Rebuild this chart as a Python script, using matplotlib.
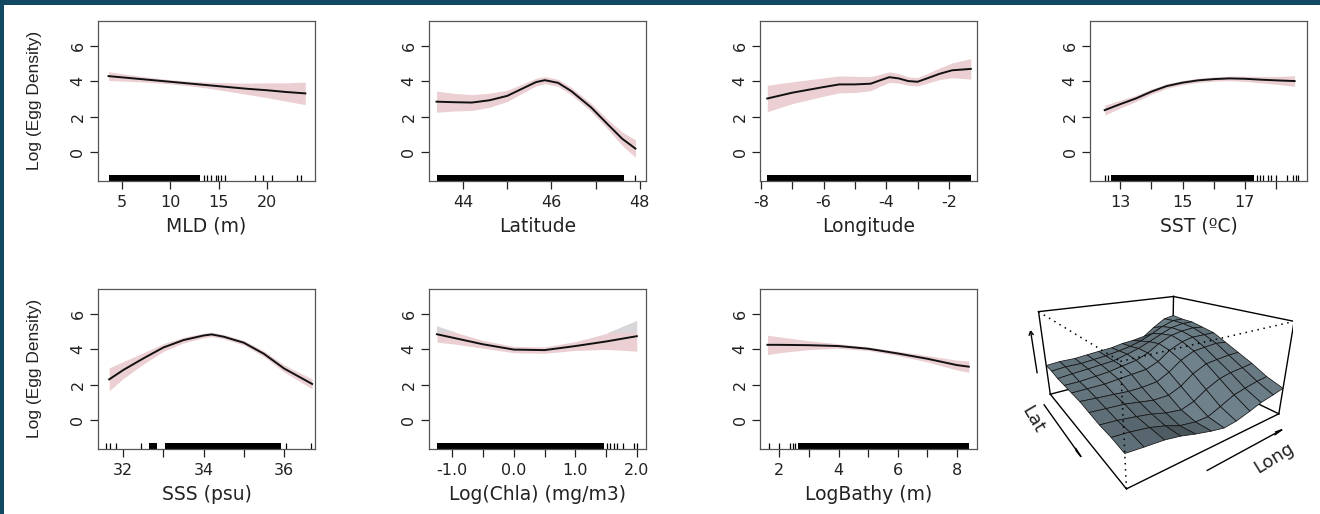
import numpy as np
import matplotlib.pyplot as plt
from matplotlib.colors import LightSource

plt.rcParams['font.family'] = ['DejaVu Sans']
plt.rcParams['axes.unicode_minus'] = False

# ---- smooth terms of the GAM ----
mld_x = [3.6, 6, 8, 10, 12, 14, 16, 18, 20, 22, 24]
mld_y = [4.30, 4.18, 4.08, 3.98, 3.88, 3.78, 3.68, 3.58, 3.50, 3.40, 3.32]
mld_se = [0.25, 0.18, 0.14, 0.12, 0.13, 0.17, 0.24, 0.32, 0.42, 0.52, 0.64]
mld_rug = [13.45, 13.8, 14.2, 14.75, 14.95, 15.3, 15.7, 18.8, 19.6, 20.5, 23.1, 23.6]
mld_rug_spans = [(3.6, 13.05)]

lat_x = [43.4, 43.8, 44.2, 44.6, 45.0, 45.35, 45.65, 45.85, 46.15, 46.45, 46.9, 47.3, 47.6, 47.9]
lat_y = [2.85, 2.82, 2.80, 2.93, 3.18, 3.60, 3.96, 4.07, 3.92, 3.45, 2.52, 1.50, 0.75, 0.19]
lat_se = [0.60, 0.50, 0.45, 0.40, 0.32, 0.26, 0.22, 0.20, 0.20, 0.21, 0.23, 0.28, 0.38, 0.50]
lat_rug = [47.9]
lat_rug_spans = [(43.4, 47.65)]

lon_x = [-7.8, -7.0, -6.0, -5.5, -5.0, -4.5, -4.2, -3.9, -3.6, -3.3, -3.0, -2.7, -2.3, -1.9, -1.3]
lon_y = [3.03, 3.36, 3.68, 3.83, 3.83, 3.87, 4.06, 4.24, 4.17, 4.02, 3.98, 4.17, 4.43, 4.63, 4.71]
lon_se = [0.75, 0.62, 0.52, 0.48, 0.46, 0.40, 0.34, 0.30, 0.27, 0.24, 0.24, 0.27, 0.33, 0.42, 0.58]
lon_rug = []
lon_rug_spans = [(-7.8, -1.3)]

sst_x = [12.5, 13, 13.5, 14, 14.5, 15, 15.5, 16, 16.5, 17, 17.5, 18, 18.6]
sst_y = [2.37, 2.71, 3.03, 3.42, 3.74, 3.93, 4.06, 4.13, 4.17, 4.15, 4.10, 4.06, 4.02]
sst_se = [0.28, 0.22, 0.18, 0.15, 0.13, 0.12, 0.12, 0.12, 0.13, 0.15, 0.18, 0.22, 0.30]
sst_rug = [12.5, 12.6, 17.4, 17.5, 17.6, 17.75, 17.85, 18.0, 18.35, 18.55, 18.65, 18.72]
sst_rug_spans = [(12.7, 17.3)]

sss_x = [31.65, 32, 32.5, 33, 33.5, 34, 34.2, 34.5, 35, 35.5, 36, 36.7]
sss_y = [2.30, 2.83, 3.49, 4.11, 4.53, 4.79, 4.85, 4.72, 4.38, 3.75, 2.92, 2.04]
sss_se = [0.65, 0.48, 0.32, 0.22, 0.16, 0.13, 0.12, 0.12, 0.13, 0.16, 0.20, 0.28]
sss_rug = [31.56, 31.66, 31.83, 32.43, 36.06, 36.66]
sss_rug_spans = [(32.64, 32.85), (33.03, 35.93)]

chla_x = [-1.25, -1.0, -0.5, 0.0, 0.5, 1.0, 1.5, 2.0]
chla_y = [4.86, 4.67, 4.29, 3.99, 3.96, 4.19, 4.45, 4.75]
chla_se = [0.45, 0.35, 0.22, 0.18, 0.18, 0.25, 0.45, 0.85]
chla_rug = [1.52, 1.57, 1.63, 1.68, 1.77, 1.95, 2.0]
chla_rug_spans = [(-1.25, 1.47)]

bathy_x = [1.6, 2, 3, 4, 5, 6, 7, 8, 8.4]
bathy_y = [4.26, 4.26, 4.24, 4.19, 4.04, 3.77, 3.47, 3.11, 3.02]
bathy_se = [0.55, 0.45, 0.25, 0.13, 0.10, 0.12, 0.18, 0.28, 0.32]
bathy_rug = [1.64, 2.0, 2.37, 2.46, 2.54]
bathy_rug_spans = [(2.62, 8.4)]

# ---- Lat x Long interaction surface ----
surf_long = [-8.0, -7.4, -6.7, -6.1, -5.5, -4.8, -4.2, -3.6, -2.9, -2.3, -1.6, -1.0]
surf_lat = [43.4, 43.9, 44.4, 44.9, 45.4, 45.9, 46.4, 46.9, 47.4, 47.9]
surf_z = [
    [2.6, 2.7, 2.7, 2.8, 2.9, 3.0, 3.2, 3.3, 3.5, 4.2, 4.9, 5.1],
    [2.6, 2.7, 2.7, 2.8, 2.9, 3.1, 3.3, 3.6, 4.1, 4.6, 5.0, 5.0],
    [2.5, 2.6, 2.7, 2.8, 2.9, 3.2, 3.5, 3.9, 4.4, 4.8, 5.0, 5.0],
    [2.5, 2.5, 2.6, 2.7, 2.9, 3.1, 3.5, 4.1, 4.6, 4.8, 4.9, 4.8],
    [2.5, 2.5, 2.5, 2.6, 2.7, 2.8, 3.2, 3.9, 4.4, 4.6, 4.6, 4.6],
    [2.5, 2.4, 2.3, 2.2, 2.2, 2.3, 2.8, 3.5, 4.0, 4.1, 4.2, 4.1],
    [2.4, 2.3, 2.2, 2.0, 1.8, 1.8, 2.2, 2.9, 3.4, 3.5, 3.6, 3.6],
    [2.3, 2.2, 2.0, 1.8, 1.5, 1.3, 1.6, 2.2, 2.7, 2.9, 3.0, 3.1],
    [2.3, 2.2, 2.0, 1.7, 1.3, 1.1, 1.1, 1.5, 2.0, 2.2, 2.4, 2.5],
    [2.2, 2.1, 2.0, 1.8, 1.5, 1.2, 1.0, 1.1, 1.4, 1.7, 1.9, 2.1],
]

panels = [
    (mld_x, mld_y, mld_se, mld_rug, mld_rug_spans, 'MLD (m)', (2.5, 25.0),
     [5, 10, 15, 20], ['5', '10', '15', '20']),
    (lat_x, lat_y, lat_se, lat_rug, lat_rug_spans, 'Latitude', (43.23, 48.14),
     [44, 45, 46, 47, 48], ['44', '', '46', '', '48']),
    (lon_x, lon_y, lon_se, lon_rug, lon_rug_spans, 'Longitude', (-8.03, -1.1),
     [-8, -7, -6, -5, -4, -3, -2], ['-8', '', '-6', '', '-4', '', '-2']),
    (sst_x, sst_y, sst_se, sst_rug, sst_rug_spans, 'SST (ºC)', (12.03, 19.0),
     [13, 14, 15, 16, 17, 18], ['13', '', '15', '', '17', '']),
    (sss_x, sss_y, sss_se, sss_rug, sss_rug_spans, 'SSS (psu)', (31.37, 36.77),
     [32, 33, 34, 35, 36], ['32', '', '34', '', '36']),
    (chla_x, chla_y, chla_se, chla_rug, chla_rug_spans, 'Log(Chla) (mg/m3)', (-1.38, 2.15),
     [-1.0, -0.5, 0.0, 0.5, 1.0, 1.5, 2.0], ['-1.0', '', '0.0', '', '1.0', '', '2.0']),
    (bathy_x, bathy_y, bathy_se, bathy_rug, bathy_rug_spans, 'LogBathy (m)', (1.35, 8.68),
     [2, 3, 4, 5, 6, 7, 8], ['2', '', '4', '', '6', '', '8']),
]

fig = plt.figure(figsize=(13.2, 5.14), dpi=100)
fig.add_artist(plt.Rectangle((0, 1 - 5 / 514), 1, 5 / 514, transform=fig.transFigure,
                             color='#134862', lw=0))
fig.add_artist(plt.Rectangle((0, 0), 4 / 1320, 1, transform=fig.transFigure,
                             color='#134862', lw=0))

col_left = [0.0742, 0.325, 0.5758, 0.8258]
row_bottom = [0.6479, 0.1265]
w, h = 0.1644, 0.312

for i, (x, y, se, rug, spans, xlabel, xlim, ticks, tlabels) in enumerate(panels):
    ax = fig.add_axes([col_left[i % 4], row_bottom[i // 4], w, h])
    x, y, se = np.array(x), np.array(y), np.array(se)
    ax.fill_between(x, y - se, y + se, color='#ebcfd2', lw=0)
    if xlabel.startswith('Log(Chla)'):
        ax.fill_between(x, 4.95, y + se, where=(y + se) > 4.95, interpolate=True,
                        color='#d9d6da', lw=0)
    ax.plot(x, y, color='#111111', lw=1.4)
    ax.vlines(rug, 0, 0.035, transform=ax.get_xaxis_transform(), color='k', lw=0.9)
    for a, b in spans:
        ax.axvspan(a, b, 0, 0.035, color='k', lw=0)
    ax.set_xlim(xlim)
    ax.set_ylim(-1.65, 7.45)
    ax.set_xticks(ticks)
    ax.set_xticklabels(tlabels)
    ax.set_yticks([0, 2, 4, 6])
    ax.set_yticklabels(['0', '2', '4', '6'], rotation=90, va='center')
    ax.tick_params(direction='out', length=6, width=0.9, colors='#222222', labelsize=11.5)
    ax.tick_params(axis='x', pad=4)
    ax.tick_params(axis='y', pad=3)
    for s in ax.spines.values():
        s.set_color('#555555')
        s.set_linewidth(0.9)
    ax.set_xlabel(xlabel, fontsize=13.5, color='#222222', labelpad=5)
    if i % 4 == 0:
        ax.set_ylabel('Log (Egg Density)', family=['Liberation Sans', 'DejaVu Sans'],
                      fontsize=12.5, color='#222222')
        ax.yaxis.set_label_coords(-0.26, 0.5)

# ---- perspective plot of the Lat x Long surface ----
ax3 = fig.add_axes([0.752, 0.017, 0.244, 0.542], projection='3d', computed_zorder=False)
ax3.set_facecolor('none')
LONG, LAT = np.meshgrid(surf_long, surf_lat)
Z = np.array(surf_z)
L0, L1 = surf_long[0], surf_long[-1]
A0, A1 = surf_lat[0], surf_lat[-1]
Z0, Z1 = 0, 7
dL, dA, dZ = L1 - L0, A1 - A0, Z1 - Z0

back_edges = [((L0, A0, Z1), (L1, A0, Z1)), ((L1, A0, Z1), (L1, A1, Z1)),
              ((L0, A0, Z0), (L0, A0, Z1)), ((L1, A0, Z0), (L1, A0, Z1)),
              ((L1, A1, Z0), (L1, A1, Z1)), ((L0, A0, Z0), (L1, A0, Z0)),
              ((L1, A0, Z0), (L1, A1, Z0))]
front_solid = [((L0, A0, Z0), (L0, A1, Z0)), ((L0, A1, Z0), (L1, A1, Z0))]
front_dotted = [((L0, A0, Z1), (L0, A1, Z1)), ((L0, A1, Z1), (L1, A1, Z1)),
                ((L0, A1, Z0), (L0, A1, Z1))]
for p, q in back_edges:
    ax3.plot(*zip(p, q), color='k', lw=1.0, zorder=1)

ls = LightSource(azdeg=300, altdeg=35)
ax3.plot_surface(LONG, LAT, Z, rstride=1, cstride=1, color='#72858f', edgecolor='#141414',
                 linewidth=0.55, shade=True, lightsource=ls, zorder=2)

for p, q in front_solid:
    ax3.plot(*zip(p, q), color='k', lw=1.0, zorder=3)
for p, q in front_dotted:
    ax3.plot(*zip(p, q), color='k', lw=1.1, ls=(0, (1, 3)), zorder=3)

# axis arrows and labels
ax3.quiver(L0 - 0.06 * dL, A0 + 0.05 * dA, Z0 - 0.06 * dZ, 0, 0.62 * dA, 0, color='k',
           lw=1.0, arrow_length_ratio=0.12, zorder=3)
ax3.quiver(L0 + 0.36 * dL, A1 + 0.08 * dA, Z0 - 0.06 * dZ, 0.56 * dL, 0, 0, color='k',
           lw=1.0, arrow_length_ratio=0.12, zorder=3)
ax3.quiver(L0 - 0.06 * dL, A0, Z0 + 0.3 * dZ, 0, 0, 0.5 * dZ, color='k',
           lw=1.0, arrow_length_ratio=0.1, zorder=3)
ax3.text(L0 - 0.17 * dL, A0 + 0.25 * dA, Z0, 'Lat', (0, 1, 0), fontsize=13, color='#222222',
         ha='center', va='center')
ax3.text(L0 + 0.64 * dL, A1 + 0.22 * dA, Z0, 'Long', (1, 0, 0), fontsize=13, color='#222222',
         ha='center', va='center')

ax3.set_xlim(L0, L1)
ax3.set_ylim(A1, A0)
ax3.set_zlim(Z0, Z1)
ax3.view_init(elev=21, azim=-125)
ax3.set_proj_type('persp', focal_length=0.2)
ax3.set_box_aspect((1, 1, 0.54), zoom=0.91)
ax3.set_axis_off()

fig.savefig('out.png', dpi=100)
